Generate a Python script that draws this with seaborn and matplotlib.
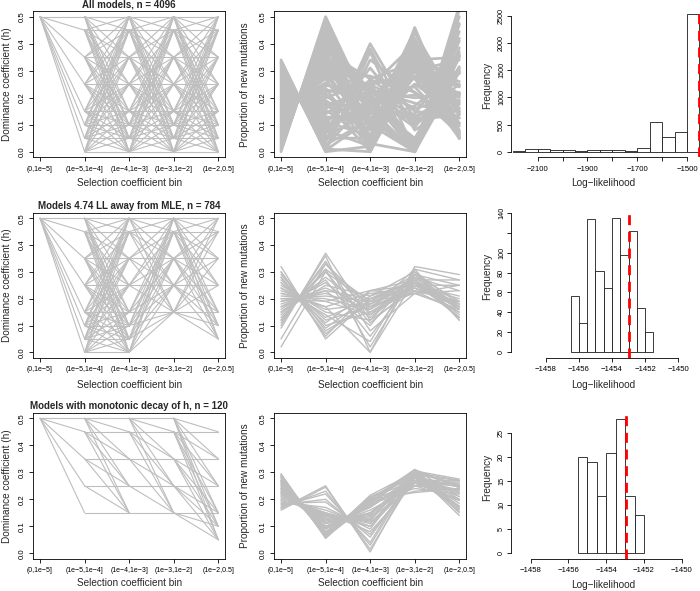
import itertools
import numpy as np
import pandas as pd
import matplotlib
matplotlib.use('Agg')
import matplotlib.pyplot as plt
import seaborn as sns

# ---- data -------------------------------------------------------------
BIN_LABELS = ['(0,1e\u22125]', '(1e\u22125,1e\u22124]', '(1e\u22124,1e\u22123]',
              '(1e\u22123,1e\u22122]', '(1e\u22122,0.5]']
TITLES = ['All models, n = 4096',
          'Models 4.74 LL away from MLE, n = 784',
          'Models with monotonic decay of h, n = 120']

# dominance coefficient levels allowed in each selection bin
H_LEVELS = [0.0, 0.05, 0.1, 0.15, 0.25, 0.35, 0.45, 0.5]
H_ALL = [[0.5], H_LEVELS, H_LEVELS, H_LEVELS, H_LEVELS]
H_NEAR_MLE = [[0.5], H_LEVELS, H_LEVELS,
              [0.15, 0.25, 0.35, 0.45, 0.5],
              [0.05, 0.1, 0.15, 0.25, 0.35, 0.45, 0.5]]
H_MONO = [[0.5], [0.15, 0.25, 0.35, 0.45, 0.5], [0.15, 0.25, 0.35, 0.45, 0.5],
          [0.15, 0.25, 0.35, 0.45, 0.5], [0.05, 0.1, 0.15, 0.25, 0.35, 0.45]]

# proportion of new mutations per bin (one row per model)
PROP_ALL = [
    (0.000, 0.500, 0.150, 0.000, 0.350), (0.005, 0.490, 0.150, 0.000, 0.355),
    (0.010, 0.485, 0.020, 0.380, 0.105), (0.015, 0.475, 0.120, 0.250, 0.140),
    (0.020, 0.470, 0.010, 0.360, 0.140), (0.025, 0.465, 0.000, 0.330, 0.180),
    (0.030, 0.455, 0.140, 0.320, 0.055), (0.035, 0.445, 0.200, 0.020, 0.300),
    (0.040, 0.440, 0.080, 0.280, 0.160), (0.045, 0.430, 0.220, 0.240, 0.065),
    (0.050, 0.425, 0.010, 0.420, 0.095), (0.055, 0.415, 0.160, 0.120, 0.250),
    (0.060, 0.410, 0.030, 0.000, 0.500), (0.065, 0.400, 0.230, 0.180, 0.125),
    (0.070, 0.395, 0.100, 0.330, 0.105), (0.075, 0.390, 0.180, 0.050, 0.305),
    (0.080, 0.380, 0.000, 0.300, 0.240), (0.085, 0.370, 0.270, 0.150, 0.125),
    (0.090, 0.365, 0.050, 0.320, 0.175), (0.095, 0.355, 0.210, 0.300, 0.060),
    (0.100, 0.350, 0.120, 0.020, 0.410), (0.105, 0.345, 0.020, 0.460, 0.070),
    (0.110, 0.335, 0.240, 0.100, 0.215), (0.115, 0.330, 0.090, 0.250, 0.215),
    (0.120, 0.320, 0.170, 0.380, 0.050), (0.125, 0.310, 0.120, 0.000, 0.445),
    (0.130, 0.305, 0.280, 0.220, 0.065), (0.135, 0.300, 0.060, 0.350, 0.150),
    (0.140, 0.290, 0.200, 0.000, 0.370), (0.145, 0.280, 0.110, 0.170, 0.295),
    (0.150, 0.275, 0.250, 0.280, 0.050), (0.155, 0.270, 0.030, 0.340, 0.200),
    (0.160, 0.255, 0.150, 0.390, 0.050), (0.165, 0.250, 0.200, 0.000, 0.385),
    (0.170, 0.245, 0.230, 0.130, 0.220), (0.175, 0.235, 0.010, 0.320, 0.260),
    (0.180, 0.230, 0.190, 0.210, 0.190), (0.185, 0.220, 0.250, 0.030, 0.315),
    (0.190, 0.215, 0.050, 0.400, 0.145), (0.195, 0.205, 0.130, 0.000, 0.470),
    (0.200, 0.200, 0.260, 0.270, 0.070), (0.205, 0.190, 0.080, 0.310, 0.215),
    (0.210, 0.185, 0.000, 0.360, 0.245), (0.215, 0.175, 0.210, 0.090, 0.310),
    (0.220, 0.170, 0.110, 0.450, 0.050), (0.225, 0.160, 0.250, 0.160, 0.205),
    (0.230, 0.155, 0.040, 0.330, 0.245), (0.235, 0.145, 0.170, 0.300, 0.150),
    (0.240, 0.140, 0.250, 0.010, 0.360), (0.245, 0.130, 0.100, 0.000, 0.525),
    (0.250, 0.125, 0.140, 0.410, 0.075), (0.255, 0.115, 0.220, 0.200, 0.210),
    (0.260, 0.110, 0.060, 0.280, 0.290), (0.265, 0.100, 0.310, 0.110, 0.215),
    (0.270, 0.095, 0.160, 0.000, 0.475), (0.275, 0.085, 0.190, 0.370, 0.080),
    (0.280, 0.080, 0.020, 0.330, 0.290), (0.285, 0.070, 0.240, 0.400, 0.050),
    (0.290, 0.065, 0.380, 0.080, 0.185), (0.295, 0.055, 0.150, 0.140, 0.360),
    (0.300, 0.050, 0.050, 0.440, 0.160), (0.305, 0.040, 0.270, 0.330, 0.055),
    (0.310, 0.035, 0.400, 0.120, 0.135), (0.315, 0.025, 0.120, 0.000, 0.540),
    (0.320, 0.020, 0.200, 0.040, 0.420), (0.325, 0.010, 0.340, 0.220, 0.105),
    (0.330, 0.005, 0.120, 0.300, 0.245), (0.335, 0.000, 0.370, 0.000, 0.295),
    (0.340, 0.000, 0.020, 0.300, 0.340), (0.330, 0.010, 0.000, 0.340, 0.350),
]
PROP_NEAR_MLE = [
    (0.320, 0.050, 0.200, 0.260, 0.170), (0.300, 0.080, 0.180, 0.280, 0.160),
    (0.290, 0.100, 0.150, 0.250, 0.210), (0.280, 0.090, 0.210, 0.300, 0.120),
    (0.270, 0.120, 0.170, 0.270, 0.170), (0.260, 0.130, 0.200, 0.240, 0.170),
    (0.250, 0.150, 0.120, 0.290, 0.190), (0.240, 0.160, 0.180, 0.260, 0.160),
    (0.230, 0.170, 0.220, 0.230, 0.150), (0.220, 0.190, 0.140, 0.280, 0.170),
    (0.210, 0.200, 0.160, 0.250, 0.180), (0.200, 0.210, 0.190, 0.270, 0.130),
    (0.190, 0.230, 0.100, 0.300, 0.180), (0.180, 0.240, 0.170, 0.240, 0.170),
    (0.170, 0.260, 0.130, 0.260, 0.180), (0.160, 0.270, 0.060, 0.280, 0.230),
    (0.150, 0.280, 0.150, 0.230, 0.190), (0.140, 0.300, 0.110, 0.250, 0.200),
    (0.130, 0.310, 0.020, 0.290, 0.250), (0.120, 0.330, 0.140, 0.240, 0.170),
    (0.110, 0.340, 0.080, 0.220, 0.250), (0.100, 0.360, 0.000, 0.270, 0.270),
    (0.090, 0.370, 0.120, 0.230, 0.190), (0.200, 0.190, 0.230, 0.220, 0.160),
    (0.170, 0.230, 0.200, 0.270, 0.130), (0.020, 0.300, 0.180, 0.250, 0.250),
    (0.050, 0.330, 0.170, 0.220, 0.230), (0.240, 0.140, 0.040, 0.310, 0.270),
    (0.260, 0.110, 0.230, 0.250, 0.150), (0.150, 0.250, 0.210, 0.260, 0.130),
    (0.220, 0.170, 0.000, 0.320, 0.290), (0.190, 0.220, 0.160, 0.310, 0.120),
    (0.280, 0.070, 0.190, 0.290, 0.170), (0.120, 0.310, 0.190, 0.220, 0.160),
    (0.300, 0.060, 0.230, 0.270, 0.140),
]
PROP_MONO = [
    (0.295, 0.055, 0.205, 0.270, 0.175), (0.290, 0.060, 0.200, 0.250, 0.200),
    (0.285, 0.065, 0.210, 0.280, 0.160), (0.280, 0.070, 0.195, 0.260, 0.195),
    (0.275, 0.075, 0.185, 0.300, 0.165), (0.270, 0.080, 0.190, 0.240, 0.220),
    (0.265, 0.090, 0.175, 0.270, 0.200), (0.260, 0.095, 0.170, 0.290, 0.185),
    (0.255, 0.100, 0.160, 0.250, 0.235), (0.250, 0.110, 0.150, 0.280, 0.210),
    (0.245, 0.115, 0.145, 0.260, 0.235), (0.240, 0.120, 0.140, 0.300, 0.200),
    (0.235, 0.125, 0.135, 0.270, 0.235), (0.230, 0.130, 0.130, 0.250, 0.260),
    (0.225, 0.135, 0.125, 0.290, 0.225), (0.220, 0.140, 0.120, 0.310, 0.210),
    (0.215, 0.145, 0.115, 0.260, 0.265), (0.210, 0.150, 0.110, 0.280, 0.250),
    (0.200, 0.160, 0.100, 0.270, 0.270), (0.190, 0.170, 0.090, 0.300, 0.250),
    (0.180, 0.200, 0.060, 0.290, 0.270), (0.170, 0.230, 0.030, 0.300, 0.270),
    (0.165, 0.250, 0.005, 0.305, 0.275), (0.160, 0.245, 0.015, 0.285, 0.245),
    (0.175, 0.220, 0.040, 0.310, 0.245), (0.185, 0.190, 0.070, 0.280, 0.245),
    (0.280, 0.060, 0.215, 0.300, 0.140), (0.270, 0.065, 0.200, 0.310, 0.155),
    (0.260, 0.070, 0.205, 0.290, 0.175), (0.250, 0.080, 0.190, 0.310, 0.170),
    (0.240, 0.090, 0.180, 0.260, 0.230), (0.290, 0.065, 0.190, 0.305, 0.150),
    (0.230, 0.100, 0.170, 0.280, 0.220), (0.220, 0.110, 0.150, 0.270, 0.250),
    (0.285, 0.060, 0.185, 0.230, 0.240), (0.265, 0.070, 0.200, 0.225, 0.240),
    (0.205, 0.140, 0.100, 0.300, 0.255), (0.195, 0.150, 0.080, 0.260, 0.250),
]

# log-likelihood histograms (bin edges and counts)
LL_EDGES_ALL = [-2200, -2150, -2100, -2050, -2000, -1950, -1900, -1850,
                -1800, -1750, -1700, -1650, -1600, -1550, -1500, -1450]
LL_COUNTS_ALL = [15, 55, 50, 35, 35, 15, 40, 30, 30, 15, 70, 550, 265, 360, 2531]
LL_EDGES_NEAR = [-1456.5, -1456, -1455.5, -1455, -1454.5, -1454,
                 -1453.5, -1453, -1452.5, -1452, -1451.5]
LL_COUNTS_NEAR = [56, 29, 134, 82, 64, 135, 98, 122, 44, 20]
LL_EDGES_MONO = [-1455.5, -1455, -1454.5, -1454, -1453.5, -1453, -1452.5, -1452]
LL_COUNTS_MONO = [20, 19, 12, 21, 28, 12, 8]
MLE_LL = -1452.96

H_TICKS = [0.0, 0.1, 0.2, 0.3, 0.4, 0.5]
LL_TICKS_ALL = [-2100, -2000, -1900, -1800, -1700, -1600, -1500]
LL_TICKLABELS_ALL = ['\u22122100', '', '\u22121900', '', '\u22121700', '', '\u22121500']
LL_TICKS_NEAR = [-1458, -1456, -1454, -1452, -1450]
FREQ_TICKS_ALL = [0, 500, 1000, 1500, 2000, 2500]
FREQ_TICKS_NEAR = [0, 20, 40, 60, 80, 100, 120, 140]
FREQ_LABELS_NEAR = ['0', '20', '40', '60', '80', '100', '', '140']
FREQ_TICKS_MONO = [0, 5, 10, 15, 20, 25]

GRAY = '#BEBEBE'
EDGE = '#1a1a1a'

# ---- style ------------------------------------------------------------
sns.set_theme(style='ticks')
plt.rcParams['font.family'] = ['Liberation Sans', 'DejaVu Sans']
plt.rcParams['axes.linewidth'] = 0.6
plt.rcParams['axes.edgecolor'] = 'black'

W, H = 700, 591
fig = plt.figure(figsize=(W / 100, H / 100), dpi=100)
fig.patch.set_facecolor('white')


def add_axes_px(left, top, right, bottom):
    return fig.add_axes([left / W, 1 - bottom / H, (right - left) / W, (bottom - top) / H])


def lim_from_px(v0, p0, v1, p1, e0, e1):
    # value range that puts v0 at pixel p0 and v1 at p1, for edges e0..e1
    scale = (p1 - p0) / (v1 - v0)
    return v0 + (e0 - p0) / scale, v0 + (e1 - p0) / scale


def fig_text(x, y, s, **kw):
    fig.text(x / W, 1 - y / H, s, ha='center', va='center', **kw)


def model_segments(levels, monotonic=False):
    models = list(itertools.product(*levels))
    if monotonic:
        models = [m for m in models if all(a >= b for a, b in zip(m, m[1:]))]
    segs = sorted({(g, m[g], m[g + 1]) for m in models for g in range(4)})
    rows = []
    for i, (g, a, b) in enumerate(segs):
        rows.append((i, g + 1, a))
        rows.append((i, g + 2, b))
    return pd.DataFrame(rows, columns=['line', 'bin', 'value'])


def profile_frame(profiles):
    rows = [(i, b + 1, v) for i, p in enumerate(profiles) for b, v in enumerate(p)]
    return pd.DataFrame(rows, columns=['line', 'bin', 'value'])


def line_panel(ax, df, lw):
    sns.lineplot(data=df, x='bin', y='value', units='line', estimator=None,
                 color=GRAY, linewidth=lw, ax=ax, legend=False)
    ax.set_xlim(0.84, 5.16)
    ax.set_ylim(-0.02, 0.52)
    ax.set_xticks(range(1, 6))
    ax.set_xticklabels(BIN_LABELS, fontsize=5)
    ax.set_yticks(H_TICKS)
    ax.set_yticklabels([f'{t:.1f}' for t in H_TICKS], fontsize=5.6,
                       rotation=90, va='center')
    ax.set_xlabel('')
    ax.set_ylabel('')
    ax.tick_params(length=2.8, width=0.6, colors='black')
    ax.tick_params(axis='x', pad=3.4)
    ax.tick_params(axis='y', pad=2.2)
    for sp in ax.spines.values():
        sp.set_linewidth(0.6)
        sp.set_color('black')


def hist_panel(ax, edges, counts, xticks, xlabels, yticks, ylabels, xlim, ylim):
    centers = (np.array(edges[:-1]) + np.array(edges[1:])) / 2
    sns.histplot(x=centers, weights=counts, bins=edges, ax=ax, color='white',
                 edgecolor=EDGE, linewidth=0.6, alpha=1)
    ax.axvline(MLE_LL, color='#FF0000', lw=2.0, ls=(0, (3.6, 2.4)))
    ax.set_xlim(*xlim)
    ax.set_ylim(*ylim)
    ax.set_xticks(xticks)
    ax.set_xticklabels(xlabels, fontsize=5.6)
    ax.set_yticks(yticks)
    ax.set_yticklabels(ylabels, fontsize=5.2, rotation=90, va='center')
    ax.set_xlabel('')
    ax.set_ylabel('')
    ax.set_facecolor('none')
    sns.despine(ax=ax)
    ax.spines['left'].set_bounds(yticks[0], yticks[-1])
    ax.spines['bottom'].set_bounds(xticks[0], xticks[-1])
    for sp in ('left', 'bottom'):
        ax.spines[sp].set_linewidth(0.6)
        ax.spines[sp].set_color('black')
    ax.tick_params(length=2.8, width=0.6, colors='black')
    ax.tick_params(axis='x', pad=3.5)
    ax.tick_params(axis='y', pad=1.5)


# ---- layout (pixel boxes) --------------------------------------------
ROW_PX = [(11.3, 157.1), (212.9, 357.7), (412.9, 558.7)]
COL1_PX = (32.9, 225.4)
COL2_PX = (273.9, 466.4)
HIST_LEFT, HIST_RIGHT = 511, 700
XLAB_Y = [183.3, 385, 583]

h_frames = [model_segments(H_ALL), model_segments(H_NEAR_MLE),
            model_segments(H_MONO, monotonic=True)]
p_frames = [profile_frame(PROP_ALL), profile_frame(PROP_NEAR_MLE),
            profile_frame(PROP_MONO)]
p_widths = [2.0, 1.0, 1.0]

for r, (top, bottom) in enumerate(ROW_PX):
    ax1 = add_axes_px(COL1_PX[0], top, COL1_PX[1], bottom)
    line_panel(ax1, h_frames[r], 0.8)
    ax2 = add_axes_px(COL2_PX[0], top, COL2_PX[1], bottom)
    line_panel(ax2, p_frames[r], p_widths[r])

    cy = (top + bottom) / 2
    c1 = (COL1_PX[0] + COL1_PX[1]) / 2
    c2 = (COL2_PX[0] + COL2_PX[1]) / 2
    fig_text(7, cy, 'Dominance coefficient (h)', rotation=90, fontsize=7.2)
    fig_text(245, cy, 'Proportion of new mutations', rotation=90, fontsize=7.2)
    fig_text(c1, XLAB_Y[r], 'Selection coefficient bin', fontsize=7.2)
    fig_text(c2, XLAB_Y[r], 'Selection coefficient bin', fontsize=7.2)
    fig_text(c1, top - 6.5, TITLES[r], fontsize=7, fontweight='bold')

# histograms
ax = add_axes_px(HIST_LEFT, 8.8, HIST_RIGHT, 157.2)
hist_panel(ax, LL_EDGES_ALL, LL_COUNTS_ALL, LL_TICKS_ALL, LL_TICKLABELS_ALL,
           FREQ_TICKS_ALL, [str(t) for t in FREQ_TICKS_ALL],
           lim_from_px(-2100, 537.7, -1500, 687.0, HIST_LEFT, HIST_RIGHT),
           lim_from_px(0, 151.7, 2500, 16.0, 157.2, 8.8))

ax = add_axes_px(HIST_LEFT, 212.0, HIST_RIGHT, 357.5)
hist_panel(ax, LL_EDGES_NEAR, LL_COUNTS_NEAR, LL_TICKS_NEAR,
           [f'\u2212{-t}' for t in LL_TICKS_NEAR],
           FREQ_TICKS_NEAR, FREQ_LABELS_NEAR,
           lim_from_px(-1458, 545.7, -1450, 678.3, HIST_LEFT, HIST_RIGHT),
           lim_from_px(0, 351.7, 140, 213.3, 357.5, 212.0))

ax = add_axes_px(HIST_LEFT, 413.5, HIST_RIGHT, 558.5)
hist_panel(ax, LL_EDGES_MONO, LL_COUNTS_MONO, LL_TICKS_NEAR,
           [f'\u2212{-t}' for t in LL_TICKS_NEAR],
           FREQ_TICKS_MONO, [str(t) for t in FREQ_TICKS_MONO],
           lim_from_px(-1458, 530.7, -1450, 681.7, HIST_LEFT, HIST_RIGHT),
           lim_from_px(0, 553.3, 25, 433.3, 558.5, 413.5))

for y_c, y_l in zip([85, 276, 477.5], [183.3, 385, 585]):
    fig_text(486.7, y_c, 'Frequency', rotation=90, fontsize=7.2)
    fig_text(603, y_l, 'Log\u2212likelihood', fontsize=7.2)

fig.savefig('out.png', dpi=100, facecolor='white')
